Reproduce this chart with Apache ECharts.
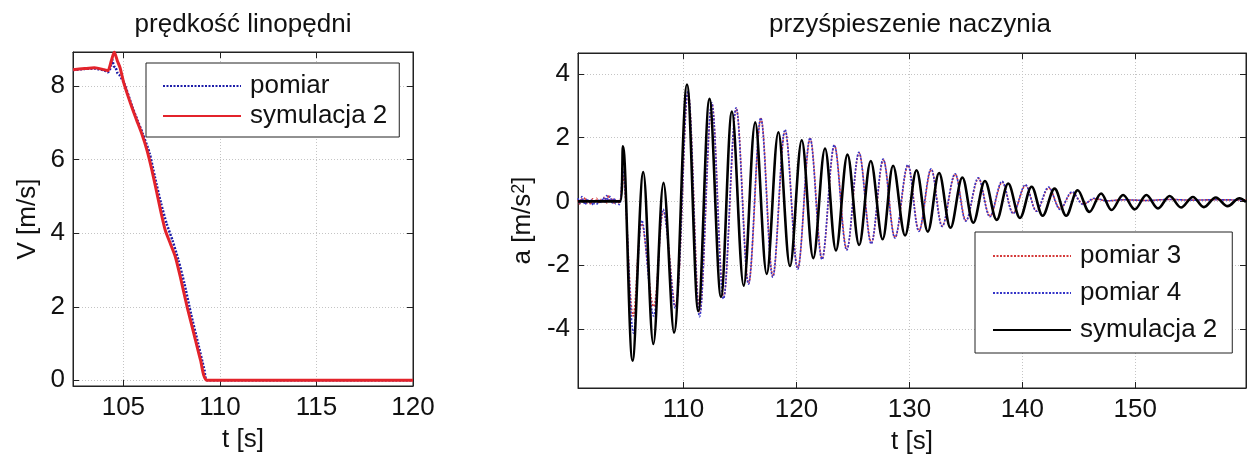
<!DOCTYPE html>
<html><head><meta charset="utf-8">
<script src="https://cdn.jsdelivr.net/npm/echarts@6/dist/echarts.min.js"></script>
<style>html,body{margin:0;padding:0;background:#fff}#c{width:1249px;height:462px}</style>
</head><body><div id="c"></div>
<script>
// ---------- data ----------
const titleLeft = 'prędkość linopędni';
const titleRight = 'przyśpieszenie naczynia';
const vTicksX = [105, 110, 115, 120];
const vTicksY = [0, 2, 4, 6, 8];
const aTicksX = [110, 120, 130, 140, 150];
const aTicksY = [-4, -2, 0, 2, 4];

// left panel: V [m/s] vs t [s]
const vPomiar = [
  [102.39, 8.44], [103.0, 8.47], [103.5, 8.48], [104.0, 8.43], [104.2, 8.38], [104.3, 8.45],
  [104.42, 8.73], [104.5, 8.55], [104.6, 8.5], [104.7, 8.35], [104.8, 8.3], [105.05, 8.07],
  [105.46, 7.44], [105.73, 7.07], [106.0, 6.71], [106.36, 6.17], [106.63, 5.53], [106.95, 4.81],
  [107.24, 4.26], [107.54, 3.81], [107.85, 3.27], [108.16, 2.63], [108.5, 1.81], [108.87, 1.0],
  [109.2, 0.27], [109.33, 0.0], [120, 0.0]
];
const vSym = [
  [102.39, 8.45], [103.0, 8.48], [103.5, 8.5], [104.0, 8.45], [104.2, 8.42], [104.38, 8.7],
  [104.53, 8.93], [104.68, 8.7], [104.83, 8.5], [105.03, 8.07], [105.43, 7.44], [105.69, 7.07],
  [105.95, 6.71], [106.22, 6.26], [106.48, 5.71], [106.74, 5.08], [106.96, 4.54], [107.17, 4.08],
  [107.43, 3.72], [107.69, 3.36], [107.95, 2.81], [108.3, 2.0], [108.65, 1.27], [109.0, 0.54],
  [109.34, 0.0], [120, 0.0]
];

// right panel: a [m/s^2] vs t [s]
const aPomiar3 = [
  [100.66, 0.05], [100.8, -0.08], [100.95, 0.1], [101.1, -0.02], [101.3, 0.12], [101.45, -0.06],
  [101.6, 0.03], [101.8, -0.1], [101.95, 0.08], [102.15, -0.04], [102.3, 0.1], [102.5, -0.07],
  [102.65, 0.06], [102.85, -0.02], [103.0, 0.14], [103.2, -0.05], [103.35, 0.2], [103.5, 0.0],
  [103.7, 0.1], [103.85, -0.06], [104.0, 0.07], [104.2, -0.05], [104.4, 0.02],
  [104.62, 0.8], [105.55, -3.6], [106.3, -0.7], [107.35, -3.3], [108.22, -0.3], [109.27, -3.3],
  [110.4, 3.4], [111.44, -3.5], [112.52, 3.05], [113.56, -3.0], [114.68, 2.9], [115.77, -2.57],
  [116.86, 2.6], [117.92, -2.35], [119.0, 2.22], [120.12, -2.1], [121.22, 1.97], [122.28, -1.8],
  [123.37, 1.75], [124.47, -1.5], [125.55, 1.52], [126.64, -1.3], [127.7, 1.3], [128.74, -1.13],
  [129.88, 1.13], [130.86, -0.92], [131.94, 1.0], [132.92, -0.77], [134.06, 0.85], [135.02, -0.6],
  [136.12, 0.72], [137.14, -0.46], [138.22, 0.6], [139.2, -0.36], [140.29, 0.5], [141.27, -0.3],
  [142.34, 0.42], [143.37, -0.23], [144.42, 0.28], [145.42, -0.08], [146.4, 0.08], [147.5, 0.02],
  [149.0, 0.05], [151.0, 0.03], [153.0, 0.06], [155.0, 0.04], [157.0, 0.05], [159.8, 0.04]
];
const aPomiar4 = [
  [100.66, 0.1], [100.85, -0.05], [101.0, 0.15], [101.15, 0.0], [101.3, -0.1], [101.5, 0.08],
  [101.65, -0.05], [101.8, 0.05], [102.0, -0.12], [102.2, 0.02], [102.35, -0.08], [102.55, 0.05],
  [102.7, -0.03], [102.9, 0.12], [103.05, -0.02], [103.2, 0.18], [103.35, 0.0], [103.5, 0.15],
  [103.7, -0.05], [103.85, 0.1], [104.0, -0.08], [104.15, 0.05], [104.3, -0.1], [104.42, 0.0],
  [104.62, 1.0], [105.58, -4.14], [106.32, -0.6], [107.35, -3.6], [108.2, -0.25], [109.25, -3.35],
  [110.39, 3.45], [111.42, -3.62], [112.5, 3.1], [113.54, -3.06], [114.66, 2.94], [115.75, -2.6],
  [116.84, 2.62], [117.9, -2.38], [118.99, 2.25], [120.11, -2.13], [121.2, 1.99], [122.26, -1.82],
  [123.35, 1.77], [124.45, -1.53], [125.53, 1.54], [126.62, -1.33], [127.68, 1.33], [128.72, -1.15],
  [129.86, 1.15], [130.84, -0.94], [131.92, 1.02], [132.9, -0.79], [134.04, 0.87], [135.0, -0.62],
  [136.1, 0.74], [137.12, -0.48], [138.2, 0.63], [139.18, -0.38], [140.27, 0.52], [141.25, -0.31],
  [142.32, 0.45], [143.35, -0.25], [144.4, 0.3], [145.4, -0.1], [146.4, 0.1], [147.5, 0.02],
  [149.0, 0.05], [151.0, 0.03], [153.0, 0.06], [155.0, 0.04], [157.0, 0.05], [159.8, 0.04]
];
const aSym = [
  [100.66, 0.0], [104.38, 0.0], [104.64, 1.73], [105.49, -5.0], [106.44, 0.92], [107.33, -4.48],
  [108.23, 0.58], [109.16, -4.12], [110.31, 3.67], [111.31, -3.45], [112.3, 3.22], [113.32, -3.0],
  [114.29, 2.82], [115.33, -2.65], [116.35, 2.48], [117.37, -2.28], [118.4, 2.17], [119.43, -2.03],
  [120.47, 1.92], [121.49, -1.78], [122.53, 1.66], [123.5, -1.54], [124.52, 1.47], [125.55, -1.37],
  [126.58, 1.27], [127.63, -1.19], [128.56, 1.12], [129.62, -1.07], [130.63, 0.98], [131.63, -0.95],
  [132.63, 0.89], [133.64, -0.83], [134.69, 0.75], [135.66, -0.67], [136.69, 0.64], [137.73, -0.58],
  [138.75, 0.56], [139.79, -0.52], [140.82, 0.46], [141.8, -0.45], [142.85, 0.4], [143.88, -0.45],
  [144.9, 0.35], [145.94, -0.33], [146.97, 0.25], [147.9, -0.27], [148.92, 0.2], [149.95, -0.25],
  [150.98, 0.2], [152.01, -0.22], [153.04, 0.17], [154.05, -0.19], [155.1, 0.14], [156.07, -0.18],
  [157.13, 0.12], [158.17, -0.15], [159.22, 0.1], [159.8, -0.02]
];

const legendLeftNames = ['pomiar', 'symulacja 2'];
const legendRightNames = ['pomiar 3', 'pomiar 4', 'symulacja 2'];

// ---------- chart ----------
const FONT = "'Liberation Sans', Arial, sans-serif";
const chart = echarts.init(document.getElementById('c'), null, {renderer: 'canvas'});

const gridLine = {show: true, lineStyle: {color: '#c4c4c4', width: 1, type: [1, 2]}};
function mainAxis(grid, pos, min, max, ticks, name, gap, isY) {
  return {
    type: 'value', gridIndex: grid, position: pos, min: min, max: max,
    name: name, nameLocation: 'middle', nameGap: gap,
    nameTextStyle: {fontFamily: FONT, fontSize: 26, color: '#111',
      rich: {s: {fontFamily: FONT, fontSize: 18, color: '#111', verticalAlign: 'top', lineHeight: 16}}},
    axisLine: {show: true, onZero: false, lineStyle: {color: '#222', width: 1}},
    axisTick: {show: true, inside: true, length: 6, customValues: ticks, lineStyle: {color: '#222'}},
    axisLabel: {show: true, customValues: ticks, fontFamily: FONT, fontSize: 26, color: '#111', margin: isY ? 8 : 9},
    splitLine: Object.assign({}, gridLine, {customValues: ticks})
  };
}
function mirrorAxis(grid, pos, min, max, ticks) {
  return {
    type: 'value', gridIndex: grid, position: pos, min: min, max: max,
    axisLine: {show: true, onZero: false, lineStyle: {color: '#222', width: 1}},
    axisTick: {show: true, inside: true, length: 6, customValues: ticks, lineStyle: {color: '#222'}},
    axisLabel: {show: false, customValues: ticks},
    splitLine: {show: false}
  };
}
const legendCommon = {
  orient: 'vertical', itemWidth: 78, itemHeight: 14, backgroundColor: '#fff',
  borderColor: '#222', borderWidth: 1, borderRadius: 0, selectedMode: false,
  itemStyle: {opacity: 0},
  textStyle: {fontFamily: FONT, fontSize: 26, lineHeight: 26, color: '#111', padding: [0, 0, 0, 4]}
};

const option = {
  animation: false,
  backgroundColor: '#fff',
  title: [
    {text: titleLeft, left: 243, top: 12, textAlign: 'center', padding: 0,
     textStyle: {fontFamily: FONT, fontSize: 26, fontWeight: 'normal', color: '#111'}},
    {text: titleRight, left: 910, top: 12, textAlign: 'center', padding: 0,
     textStyle: {fontFamily: FONT, fontSize: 26, fontWeight: 'normal', color: '#111'}}
  ],
  grid: [
    {left: 73, top: 52, width: 340, height: 334, show: true, borderColor: '#222', borderWidth: 1, containLabel: false},
    {left: 578, top: 53, width: 668, height: 335, show: true, borderColor: '#222', borderWidth: 1, containLabel: false}
  ],
  xAxis: [
    mainAxis(0, 'bottom', 102.39, 120, vTicksX, 't [s]', 41, false),
    mirrorAxis(0, 'top', 102.39, 120, vTicksX),
    mainAxis(1, 'bottom', 100.66, 159.8, aTicksX, 't [s]', 41, false),
    mirrorAxis(1, 'top', 100.66, 159.8, aTicksX)
  ],
  yAxis: [
    mainAxis(0, 'left', -0.155, 8.93, vTicksY, 'V [m/s]', 32, true),
    mirrorAxis(0, 'right', -0.155, 8.93, vTicksY),
    mainAxis(1, 'left', -5.86, 4.66, aTicksY, 'a [m/s{s|2}]', 41, true),
    mirrorAxis(1, 'right', -5.86, 4.66, aTicksY)
  ],
  legend: [
    Object.assign({}, legendCommon, {data: legendLeftNames, left: 146, top: 63,
      padding: [10, 12, 8, 16], itemGap: 4}),
    Object.assign({}, legendCommon, {data: ['pomiar 3', 'pomiar 4', 'symulacja 2 (a)'], left: 975, top: 232,
      padding: [11, 15, 10, 17], itemGap: 11,
      formatter: function (n) { return n === 'symulacja 2 (a)' ? legendRightNames[2] : n; }})
  ],
  series: [
    {name: 'pomiar', type: 'line', xAxisIndex: 0, yAxisIndex: 0, data: vPomiar, symbol: 'none',
     smooth: 0.2, color: '#1c1ca8', lineStyle: {color: '#1c1ca8', width: 2.5, type: [2, 1.5]}, z: 2},
    {name: 'symulacja 2', type: 'line', xAxisIndex: 0, yAxisIndex: 0, data: vSym, symbol: 'none',
     smooth: 0.2, color: '#e3232b', lineStyle: {color: '#e3232b', width: 3}, z: 3},
    {name: 'pomiar 3', type: 'line', xAxisIndex: 2, yAxisIndex: 2, data: aPomiar3, symbol: 'none',
     smooth: 0.35, color: '#d43a3a', lineStyle: {color: '#d43a3a', width: 1.6, type: [2, 1.5]}, z: 2},
    {name: 'pomiar 4', type: 'line', xAxisIndex: 2, yAxisIndex: 2, data: aPomiar4, symbol: 'none',
     smooth: 0.35, color: '#3434c8', lineStyle: {color: '#3434c8', width: 1.6, type: [2, 1.5]}, z: 3},
    {name: 'symulacja 2 (a)', type: 'line', xAxisIndex: 2, yAxisIndex: 2, data: aSym, symbol: 'none',
     smooth: 0.35, color: '#000', lineStyle: {color: '#000', width: 2.6}, z: 4}
  ]
};
chart.setOption(option);
</script></body></html>
